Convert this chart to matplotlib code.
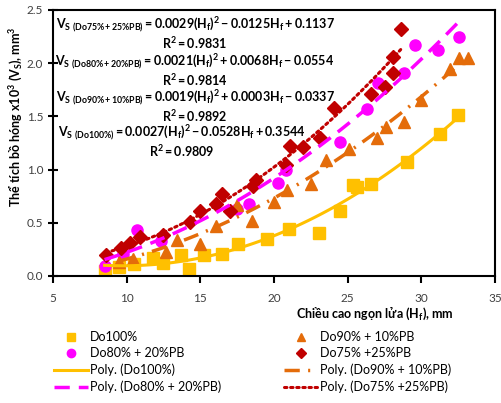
import numpy as np
import matplotlib
matplotlib.use("Agg")
import matplotlib.pyplot as plt

plt.rcParams['font.family'] = ['Lato', 'DejaVu Sans']
plt.rcParams['mathtext.fontset'] = 'custom'
plt.rcParams['mathtext.rm'] = 'Lato'
plt.rcParams['mathtext.it'] = 'Lato'
plt.rcParams['mathtext.bf'] = 'Lato:bold'

# Do100%
x100 = [8.5, 9.5, 10.5, 11.8, 12.5, 13.7, 14.2, 15.25, 16.5, 17.55, 19.5, 21.0, 23.05, 24.5, 25.35, 25.6, 26.6, 29.05, 31.3, 32.5]
y100 = [0.05, 0.08, 0.11, 0.17, 0.12, 0.20, 0.07, 0.20, 0.21, 0.30, 0.35, 0.445, 0.40, 0.61, 0.855, 0.84, 0.86, 1.07, 1.335, 1.51]
# Do90% + 10%PB
x90 = [9.5, 10.45, 12.7, 13.4, 15.0, 16.05, 17.5, 18.5, 20.0, 20.85, 22.5, 23.55, 25.1, 27.0, 27.6, 28.8, 30.0, 31.95, 32.55, 33.15]
y90 = [0.135, 0.16, 0.23, 0.34, 0.30, 0.47, 0.67, 0.52, 0.70, 0.81, 0.86, 1.09, 1.19, 1.30, 1.40, 1.445, 1.65, 1.95, 2.045, 2.05]
# Do80% + 20%PB
x80 = [8.5, 9.75, 10.7, 12.3, 17.5, 18.3, 20.25, 20.8, 24.5, 26.3, 27.05, 28.8, 29.6, 31.1, 32.55]
y80 = [0.09, 0.21, 0.43, 0.325, 0.63, 0.68, 0.87, 1.0, 1.26, 1.565, 1.81, 1.91, 2.17, 2.12, 2.25]
# Do75% + 25%PB
x75 = [8.6, 9.6, 10.2, 10.9, 12.45, 14.3, 15.0, 16.05, 16.5, 17.0, 18.55, 18.8, 20.8, 21.1, 22.0, 23.1, 24.1, 26.55, 27.55, 28.1, 28.1, 28.6]
y75 = [0.20, 0.26, 0.31, 0.37, 0.39, 0.51, 0.615, 0.68, 0.77, 0.61, 0.85, 0.90, 1.045, 1.22, 1.21, 1.30, 1.58, 1.71, 1.78, 1.91, 2.06, 2.32]

# trendline coefficients (as printed on the chart)
c100 = [0.0027, -0.0528, 0.3544]
c90 = [0.0019, 0.0003, -0.0337]
c80 = [0.0021, 0.0068, -0.0554]
c75 = [0.0029, -0.0125, 0.1137]

yellow = '#FFC000'
orange = '#E46C0A'
magenta = '#FF00FF'
darkred = '#C00000'

fig = plt.figure(figsize=(5.02, 4.03), dpi=100)
ax = fig.add_axes([53/502, 1-276/403, 442/502, 266/403])

h1, = ax.plot(x100, y100, 's', color=yellow, ms=8, ls='none', label='Do100%')
h2, = ax.plot(x80, y80, 'o', color=magenta, ms=8, ls='none', label='Do80% + 20%PB')
h3, = ax.plot(x90, y90, '^', color=orange, ms=8, ls='none', label='Do90% + 10%PB')
h4, = ax.plot(x75, y75, 'D', color=darkred, ms=7, ls='none', label='Do75% +25%PB')

xs = np.linspace(min(x100), max(x100), 100)
p1, = ax.plot(xs, np.polyval(c100, xs), color=yellow, lw=2.2, label='Poly. (Do100%)')
xs = np.linspace(min(x80), max(x80), 100)
p2, = ax.plot(xs, np.polyval(c80, xs), color=magenta, lw=2.5, dashes=(4.4, 2.6), label='Poly. (Do80% + 20%PB)')
xs = np.linspace(min(x90), max(x90), 100)
p3, = ax.plot(xs, np.polyval(c90, xs), color=orange, lw=2.5, dashes=(4.4, 2.4, 0.6, 2.4), label='Poly. (Do90% + 10%PB)')
xs = np.linspace(min(x75), max(x75), 100)
p4, = ax.plot(xs, np.polyval(c75, xs), color=darkred, lw=2.2, ls=(0, (0.8, 1.2)), dash_capstyle='round', label='Poly. (Do75% +25%PB)')

ax.set_xlim(5, 35)
ax.set_ylim(0, 2.5)
ax.set_xticks([5, 10, 15, 20, 25, 30, 35])
ax.set_yticks([0, 0.5, 1.0, 1.5, 2.0, 2.5])
ax.set_yticklabels(['0.0', '0.5', '1.0', '1.5', '2.0', '2.5'])
for s in ax.spines.values():
    s.set_linewidth(1.5)
ax.tick_params(axis='x', direction='out', length=5, width=1.5, pad=7, labelsize=8.5, labelcolor='#404040')
ax.tick_params(axis='y', direction='inout', length=7, width=1.5, labelsize=8.5, labelcolor='#404040')

eqs = [
    (r'$\mathbf{V_{S\ (Do75\%+25\%PB)} = 0.0029(H_f)^2 - 0.0125H_f + 0.1137}$', r'$\mathbf{R^2 = 0.9831}$'),
    (r'$\mathbf{V_{S\ (Do80\%+20\%PB)} = 0.0021(H_f)^2 + 0.0068H_f - 0.0554}$', r'$\mathbf{R^2 = 0.9814}$'),
    (r'$\mathbf{V_{S\ (Do90\%+10\%PB)} = 0.0019(H_f)^2 + 0.0003H_f - 0.0337}$', r'$\mathbf{R^2 = 0.9892}$'),
    (r'$\mathbf{V_{S\ (Do100\%)} = 0.0027(H_f)^2 - 0.0528H_f + 0.3544}$', r'$\mathbf{R^2 = 0.9809}$'),
]
ypos = [25, 43, 62, 80, 98, 116, 133, 151]
xcen = [195, 195, 195, 182]
for i, (e, r) in enumerate(eqs):
    fig.text(xcen[i]/502, 1-ypos[2*i]/403, e, ha='center', va='center', fontsize=9)
    fig.text(xcen[i]/502, 1-ypos[2*i+1]/403, r, ha='center', va='center', fontsize=9)

fig.text(375/502, 1-313/403, r'Chiều cao ngọn lửa (H$_\mathbf{f}$), mm', ha='center', va='center',
         fontsize=9, fontweight='bold')
fig.text(15/502, 1-117/403, r'Thể tích bồ hóng x10$^\mathbf{3}$ (V$_\mathbf{S}$), mm$^\mathbf{3}$', ha='center', va='center',
         rotation=90, fontsize=9, fontweight='bold')

fig.legend([h1, h2, p1, p2, h3, h4, p3, p4],
           [h.get_label() for h in [h1, h2, p1, p2, h3, h4, p3, p4]],
           loc='upper left', bbox_to_anchor=(54/502, 1-331/403), ncol=2, frameon=False,
           fontsize=9, numpoints=1, markerscale=0.75, handlelength=2.7, handletextpad=0.2,
           labelspacing=0.35, columnspacing=5.0, borderpad=0, borderaxespad=0)

fig.savefig('out.png', dpi=100)
